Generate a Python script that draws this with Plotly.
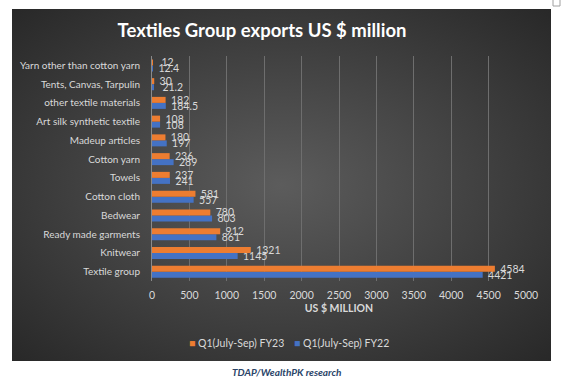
import base64
import plotly.graph_objects as go

categories = [
    "Textile group", "Knitwear", "Ready made garments", "Bedwear", "Cotton cloth",
    "Towels", "Cotton yarn", "Madeup articles", "Art silk synthetic textile",
    "other textile materials", "Tents, Canvas, Tarpulin", "Yarn other than cotton yarn",
]
fy23 = [4584, 1321, 912, 780, 581, 237, 236, 180, 108, 182, 30, 12]
fy22 = [4421, 1145, 861, 803, 557, 241, 289, 197, 108, 184.5, 21.2, 12.4]
fy23_labels = ["4584", "1321", "912", "780", "581", "237", "236", "180", "108", "182", "30", "12"]
fy22_labels = ["4421", "1145", "861", "803", "557", "241", "289", "197", "108", "184.5", "21.2", "12.4"]
name23 = "Q1(July-Sep) FY23"
name22 = "Q1(July-Sep) FY22"
color23 = "#ED7D31"
color22 = "#4472C4"

W, H = 562, 382
L, R, T, B = 152, 36, 56, 101
DW, DH = W - L - R, H - T - B

def px(x):
    return (x - L) / DW

def py(y):
    return (H - B - y) / DH

FONT = "Lato"
TXT = "#d9d9d9"

fig = go.Figure()
fig.add_trace(go.Bar(
    y=categories, x=fy22, name=name22, orientation="h",
    marker=dict(color=color22, line=dict(width=0)),
    text=["  " + t for t in fy22_labels], textposition="outside", cliponaxis=False,
    constraintext="none", textfont=dict(color=TXT, size=10.5, family=FONT),
    showlegend=False,
))
fig.add_trace(go.Bar(
    y=categories, x=fy23, name=name23, orientation="h",
    marker=dict(color=color23, line=dict(width=0)),
    text=["  " + t for t in fy23_labels], textposition="outside", cliponaxis=False,
    constraintext="none", textfont=dict(color=TXT, size=10.5, family=FONT),
    showlegend=False,
))

svg = (
    '<svg xmlns="http://www.w3.org/2000/svg" width="540" height="352" preserveAspectRatio="none">'
    '<defs><radialGradient id="g" cx="50%" cy="50%" r="72%">'
    '<stop offset="0" stop-color="#5c5c5c"/><stop offset="1" stop-color="#272727"/>'
    '</radialGradient></defs><rect width="540" height="352" fill="url(#g)"/></svg>'
)
src = "data:image/svg+xml;base64," + base64.b64encode(svg.encode()).decode()

x0, x1, y0, y1 = 12, 551, 9, 361
fig.update_layout(
    width=W, height=H,
    margin=dict(l=L, r=R, t=T, b=B, pad=0),
    paper_bgcolor="white",
    plot_bgcolor="rgba(0,0,0,0)",
    barmode="group", bargap=0.36, bargroupgap=0,
    font=dict(family=FONT, color=TXT, size=10),
    showlegend=False,
    images=[dict(source=src, xref="paper", yref="paper",
                 x=px(x0), y=py(y0), sizex=px(x1) - px(x0), sizey=py(y0) - py(y1),
                 xanchor="left", yanchor="top", sizing="stretch", layer="below")],
    shapes=[dict(type="rect", xref="paper", yref="paper",
                 x0=px(553), x1=px(560), y0=py(6), y1=py(-1),
                 line=dict(color="#a0a0a0", width=1), fillcolor="white")],
    title=dict(text="<b>Textiles Group exports US $ million</b>",
               font=dict(family=FONT, size=18.5, color="white"),
               xref="paper", x=px(262), xanchor="center",
               yref="container", y=1 - 31 / H, yanchor="middle"),
    xaxis=dict(range=[0, 5000], dtick=500, tick0=0, showgrid=True,
               gridcolor="#6e6e6e", gridwidth=1, zeroline=False, automargin=False,
               showline=False, ticks="", ticklabelstandoff=6,
               tickfont=dict(color=TXT, size=10.5, family=FONT),
               title=dict(text="<b>US $ MILLION</b>", standoff=5,
                          font=dict(color=TXT, size=10.5, family=FONT))),
    yaxis=dict(showgrid=False, zeroline=False, showline=True, automargin=False,
               linecolor="#8a8a8a", linewidth=1, ticks="", ticklabelstandoff=9,
               tickfont=dict(color=TXT, size=10, family=FONT)),
    annotations=[
        dict(text=f'<span style="color:{color23}">■</span> {name23}',
             xref="paper", yref="paper", x=px(187), y=py(343), xanchor="left", yanchor="middle",
             showarrow=False, font=dict(color=TXT, size=10.5, family=FONT)),
        dict(text=f'<span style="color:{color22}">■</span> {name22}',
             xref="paper", yref="paper", x=px(292), y=py(343), xanchor="left", yanchor="middle",
             showarrow=False, font=dict(color=TXT, size=10.5, family=FONT)),
        dict(text="<b><i>TDAP/WealthPK research</i></b>", xref="paper", yref="paper",
             x=px(286), y=py(372), xanchor="center", yanchor="middle",
             showarrow=False, font=dict(color="#2a4468", size=10, family=FONT)),
    ],
)

fig.write_html("out.html", config={"displayModeBar": False},
               post_script="document.body.style.margin='0';")
